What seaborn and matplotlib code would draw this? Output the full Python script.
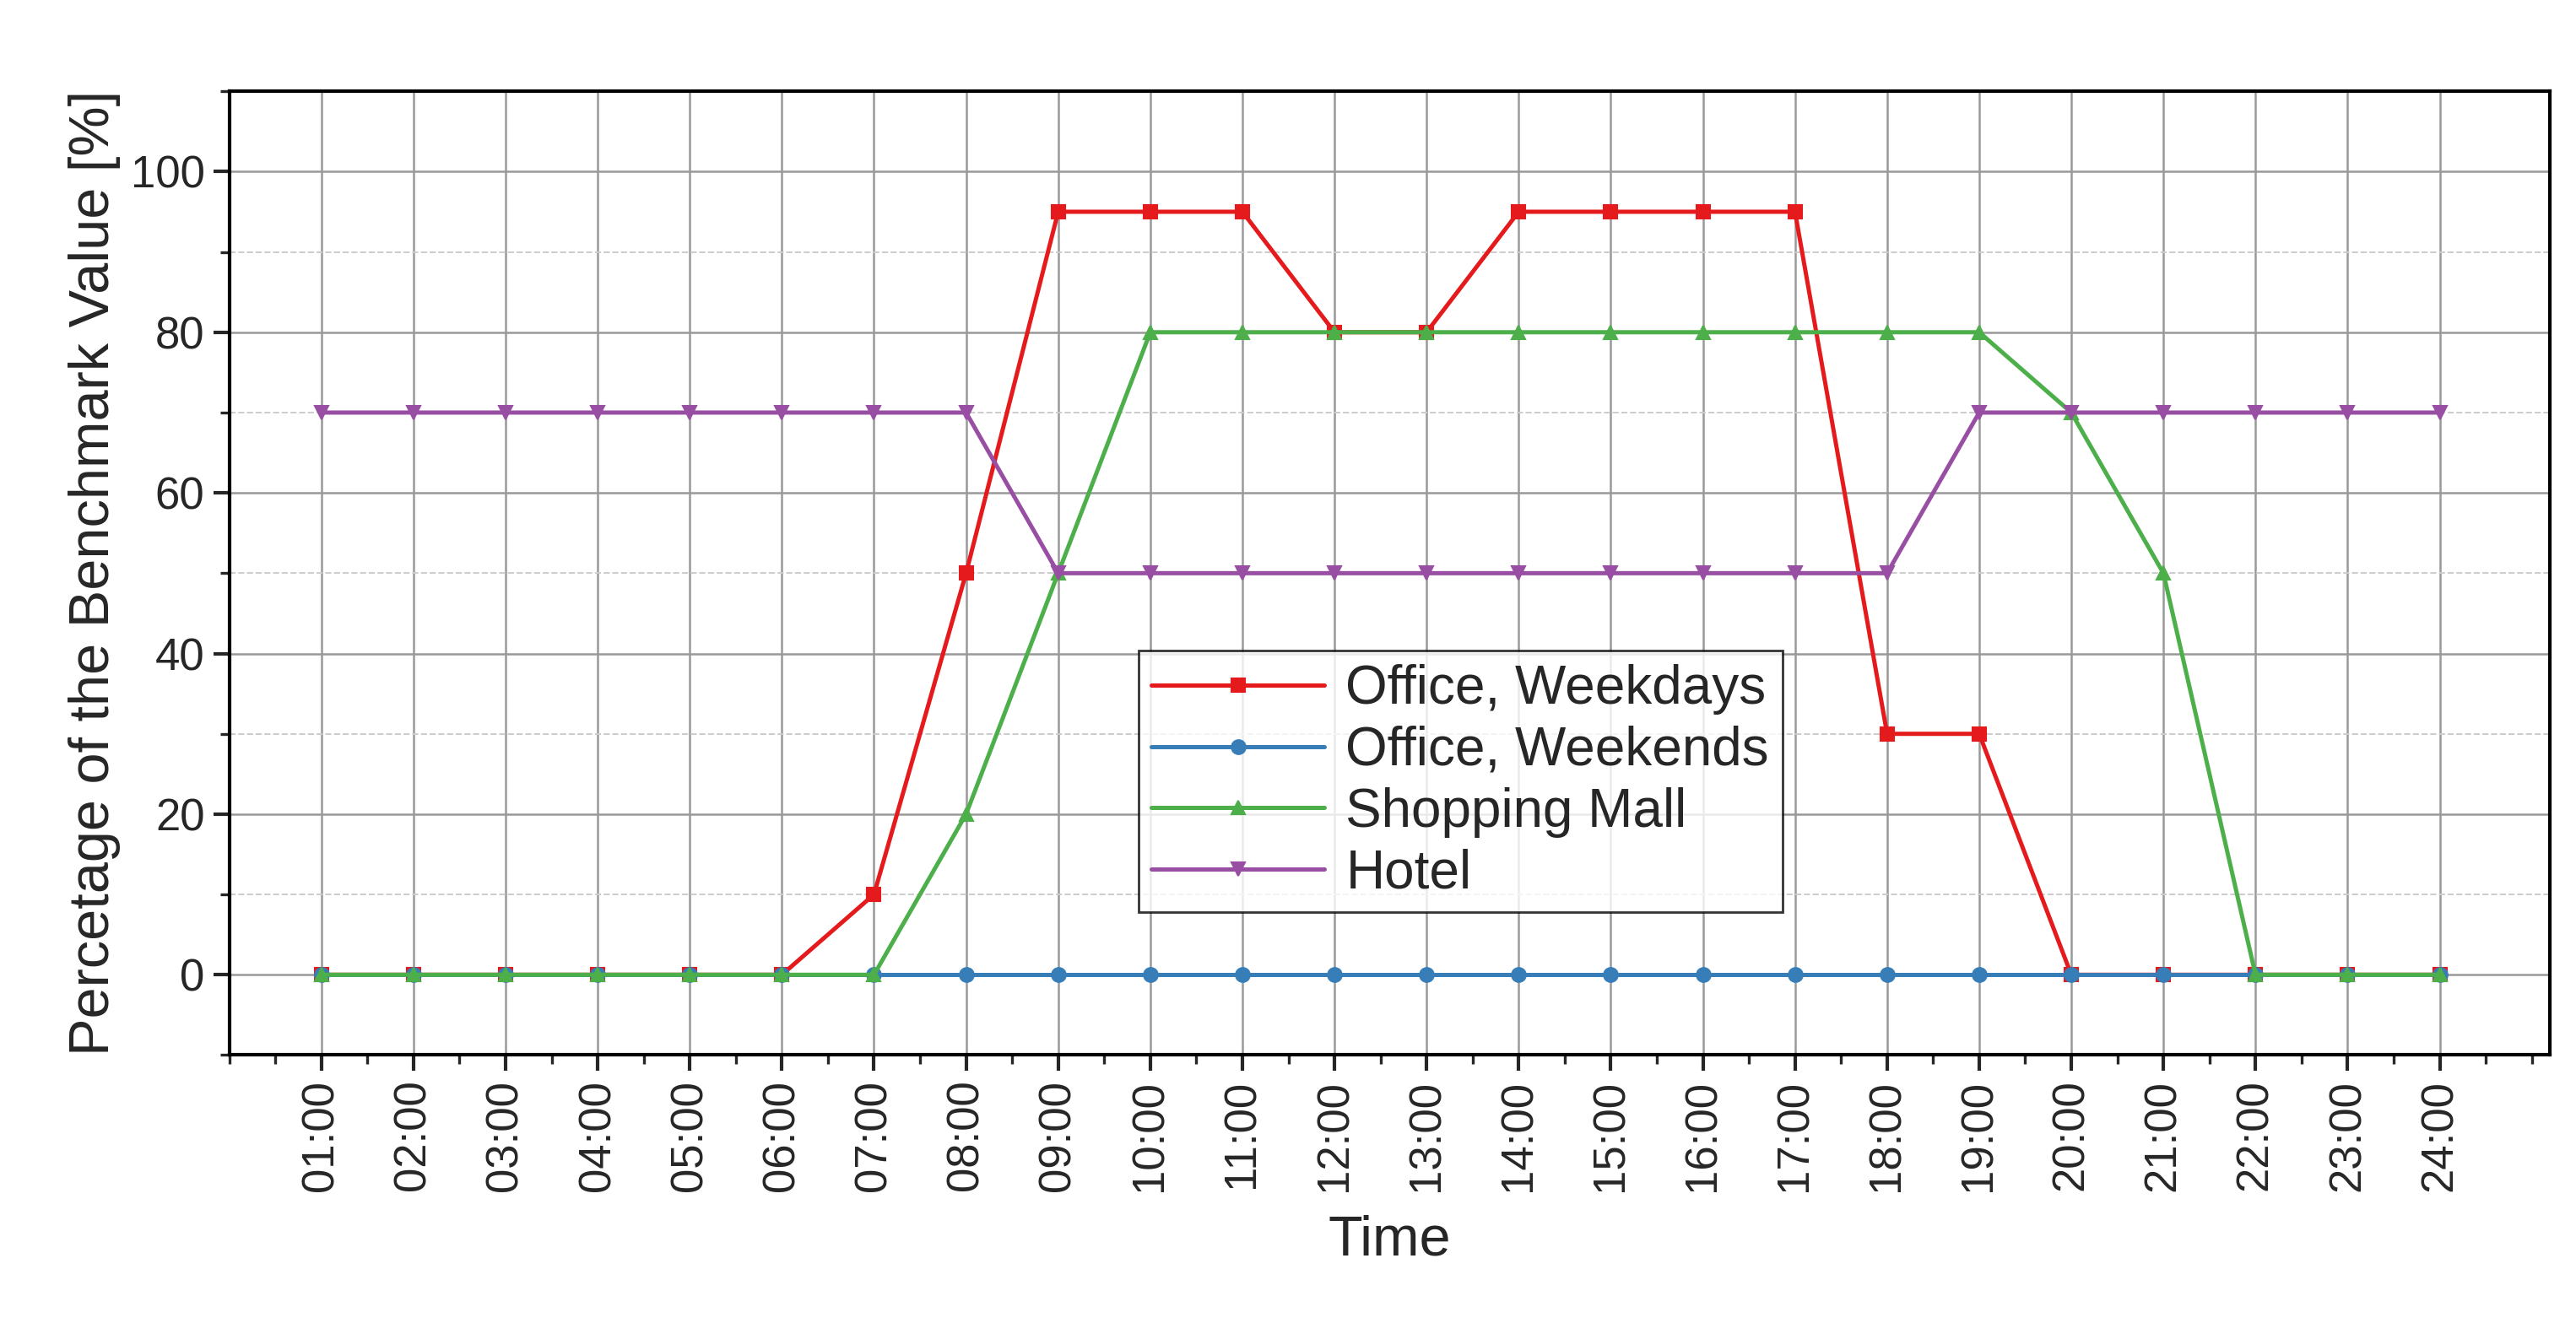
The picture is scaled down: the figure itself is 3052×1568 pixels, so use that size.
import matplotlib
matplotlib.use("Agg")
import matplotlib.pyplot as plt
import seaborn as sns
import pandas as pd
import numpy as np
from matplotlib.ticker import MultipleLocator

hours = [f"{h:02d}:00" for h in range(1, 25)]
office_weekdays = [0,0,0,0,0,0,10,50,95,95,95,80,80,95,95,95,95,30,30,0,0,0,0,0]
office_weekends = [0]*24
shopping_mall = [0,0,0,0,0,0,0,20,50,80,80,80,80,80,80,80,80,80,80,70,50,0,0,0]
hotel = [70]*8 + [50]*10 + [70]*6

series = {"Office, Weekdays": office_weekdays, "Office, Weekends": office_weekends,
          "Shopping Mall": shopping_mall, "Hotel": hotel}
colors = ["#e41a1c", "#377eb8", "#4daf4a", "#984ea3"]
markers = ["s", "o", "^", "v"]

sns.set_style("white")
plt.rcParams['font.family'] = ['Liberation Sans', 'DejaVu Sans']

fig = plt.figure(figsize=(15.26, 7.84), dpi=200)
ax = fig.add_axes([0.089, 0.2025, 0.901, 0.7285])
pos = np.arange(1, 25)
for (name, vals), c, m in zip(series.items(), colors, markers):
    df = pd.DataFrame({"x": pos, "y": vals})
    sns.lineplot(data=df, x="x", y="y", ax=ax, color=c, marker=m, markersize=6,
                 markeredgecolor=c, linewidth=1.8, label=name)

ax.set_xlim(0, 25.2)
ax.set_ylim(-10, 110)
ax.set_xticks(pos)
ax.set_xticklabels(hours, rotation=90, fontsize=19)
ax.xaxis.set_minor_locator(MultipleLocator(0.5))
ax.yaxis.set_major_locator(MultipleLocator(20))
ax.yaxis.set_minor_locator(MultipleLocator(10))
ax.tick_params(axis='y', labelsize=19)
ax.tick_params(which='major', direction='out', length=7, width=1.5, left=True, bottom=True)
ax.tick_params(which='minor', direction='out', length=4, width=1.2, left=True, bottom=True)
ax.grid(True, which='major', color='#999999', linewidth=0.9)
ax.grid(True, which='minor', axis='y', color='#cccccc', linestyle='--', linewidth=0.7)
for s in ax.spines.values():
    s.set_linewidth(1.5)
    s.set_color('black')
ax.set_xlabel("Time", fontsize=24, labelpad=10)
ax.set_ylabel("Percetage of the Benchmark Value [%]", fontsize=24)

leg = ax.legend(loc='lower left', bbox_to_anchor=(0.38, 0.12), fontsize=23,
                frameon=True, fancybox=False, edgecolor='black', handlelength=3.2,
                borderpad=0.25, labelspacing=0.2, handletextpad=0.4)
leg.get_frame().set_linewidth(1.0)

fig.savefig("out.png", dpi=200)
